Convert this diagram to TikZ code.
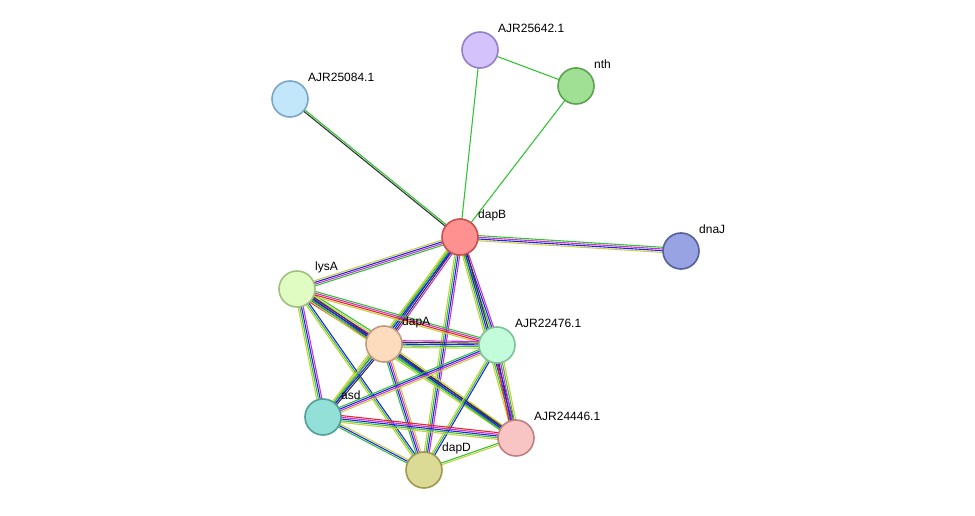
\documentclass[tikz,border=0pt]{standalone}
\usepackage{fontspec}
\setmainfont{Liberation Sans}
\usetikzlibrary{calc}
\definecolor{cg}{HTML}{33C433}
\definecolor{cb}{HTML}{2222EE}
\definecolor{ck}{HTML}{333333}
\definecolor{cr}{HTML}{EE2222}
\definecolor{cp}{HTML}{CC33CC}
\definecolor{cy}{HTML}{C8D040}
\tikzset{
  prot/.style={circle,draw,line width=1.6pt,minimum size=36pt,inner sep=0pt},
  lab/.style={anchor=west,font=\fontsize{12}{14}\selectfont,inner sep=0pt},
  ln/.style={line width=1.1pt}
}
\newcommand{\medge}[3]{%
  \foreach \c [count=\i] in {#3} {\xdef\nn{\i}}%
  \foreach \c [count=\i] in {#3} {%
    \pgfmathsetmacro{\o}{(\i-(\nn+1)/2)*1.7}%
    \draw[ln,draw=\c] ($(#1)!\o pt!90:(#2)$) -- ($(#2)!\o pt!-90:(#1)$);}%
}
\begin{document}
\begin{tikzpicture}[x=1pt,y=-1pt]
\useasboundingbox (0,0) rectangle (975,516);
\coordinate (p1) at (480,50);
\coordinate (p2) at (576,86);
\coordinate (p3) at (290,99);
\coordinate (p4) at (460,237);
\coordinate (p5) at (681,251);
\coordinate (p6) at (297,289);
\coordinate (p7) at (384,344);
\coordinate (p8) at (497,345);
\coordinate (p9) at (323,417);
\coordinate (p10) at (516,438);
\coordinate (p11) at (424,470);
\medge{p4}{p1}{cg}
\medge{p4}{p2}{cg}
\medge{p1}{p2}{cg}
\medge{p4}{p3}{cg,ck}
\medge{p4}{p5}{cy,cb,cp,cg}
\medge{p4}{p6}{cy,cb,cp,cg}
\medge{p4}{p7}{cy,cg,cb,ck,cp}
\medge{p4}{p8}{cy,cg,cb,cp}
\medge{p4}{p10}{cy,cg,cb,ck}
\medge{p4}{p9}{cy,cg,cb}
\medge{p4}{p11}{cy,cg,cb,cp}
\medge{p6}{p7}{cr,cb,ck,cp,cy,cg}
\medge{p6}{p8}{cy,cr,cp,cg}
\medge{p6}{p9}{cy,cg,cb,cp}
\medge{p6}{p10}{cy,cg,cb,ck}
\medge{p6}{p11}{cy,cg,cb}
\medge{p7}{p8}{cy,cg,cb,ck,cp}
\medge{p7}{p9}{cy,cg,cb,ck}
\medge{p7}{p10}{cg,cb,ck,cy}
\medge{p7}{p11}{cg,cb,cp,cy}
\medge{p8}{p9}{cg,cb,cp,cy}
\medge{p8}{p10}{cr,cb,cp,cg,cy}
\medge{p8}{p11}{cy,cg,cb}
\medge{p9}{p10}{cy,cg,cb,cp,cr}
\medge{p9}{p11}{cg,cb,cy}
\medge{p10}{p11}{cg,cy}
\node[prot,fill={rgb,255:red,212;green,194;blue,252},draw={rgb,255:red,148;green,128;blue,200}] (n1) at (p1) {};
\node[prot,fill={rgb,255:red,159;green,224;blue,149},draw={rgb,255:red,92;green,163;blue,80}] (n2) at (p2) {};
\node[prot,fill={rgb,255:red,194;green,230;blue,250},draw={rgb,255:red,124;green,166;blue,200}] (n3) at (p3) {};
\node[prot,fill={rgb,255:red,255;green,145;blue,145},draw={rgb,255:red,200;green,80;blue,80}] (n4) at (p4) {};
\node[prot,fill={rgb,255:red,151;green,163;blue,226},draw={rgb,255:red,85;green,96;blue,156}] (n5) at (p5) {};
\node[prot,fill={rgb,255:red,225;green,252;blue,194},draw={rgb,255:red,160;green,192;blue,128}] (n6) at (p6) {};
\node[prot,fill={rgb,255:red,253;green,220;blue,190},draw={rgb,255:red,192;green,154;blue,128}] (n7) at (p7) {};
\node[prot,fill={rgb,255:red,194;green,252;blue,218},draw={rgb,255:red,128;green,192;blue,154}] (n8) at (p8) {};
\node[prot,fill={rgb,255:red,146;green,224;blue,215},draw={rgb,255:red,80;green,160;blue,152}] (n9) at (p9) {};
\node[prot,fill={rgb,255:red,249;green,196;blue,196},draw={rgb,255:red,192;green,128;blue,128}] (n10) at (p10) {};
\node[prot,fill={rgb,255:red,220;green,219;blue,149},draw={rgb,255:red,156;green,154;blue,80}] (n11) at (p11) {};
\node[lab] (l1) at ($(p1)+(18,-22)$) {AJR25642.1};
\node[lab] (l2) at ($(p2)+(18,-22)$) {nth};
\node[lab] (l3) at ($(p3)+(18,-22)$) {AJR25084.1};
\node[lab] (l4) at ($(p4)+(18,-22)$) {dapB};
\node[lab] (l5) at ($(p5)+(18,-22)$) {dnaJ};
\node[lab] (l6) at ($(p6)+(18,-22)$) {lysA};
\node[lab] (l7) at ($(p7)+(18,-22)$) {dapA};
\node[lab] (l8) at ($(p8)+(18,-22)$) {AJR22476.1};
\node[lab] (l9) at ($(p9)+(18,-22)$) {asd};
\node[lab] (l10) at ($(p10)+(18,-22)$) {AJR24446.1};
\node[lab] (l11) at ($(p11)+(18,-22)$) {dapD};
\end{tikzpicture}
\end{document}
